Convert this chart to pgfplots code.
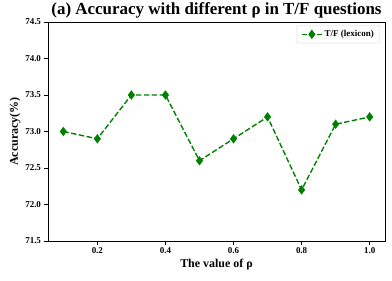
\documentclass[border=0pt]{standalone}
\usepackage{pgfplots}
\pgfplotsset{compat=1.18}
\usepackage{fontspec}
\setmainfont{Liberation Serif}
\definecolor{mplgreen}{RGB}{0,128,0}
\begin{document}
\begin{tikzpicture}
\begin{axis}[
  name=ax,
  scale only axis,
  width=337bp, height=219bp,
  xmin=0.055, xmax=1.045,
  ymin=71.5, ymax=74.5,
  xtick={0.2,0.4,0.6,0.8,1.0},
  ytick={71.5,72.0,72.5,73.0,73.5,74.0,74.5},
  xticklabels={0.2,0.4,0.6,0.8,1.0},
  yticklabels={71.5,72.0,72.5,73.0,73.5,74.0,74.5},
  tick align=outside,
  tick style={black, line width=0.6pt},
  major tick length=3.5bp,
  tick pos=left,
  ticklabel style={font=\fontsize{9}{10}\selectfont\bfseries},
  xlabel={\textbf{The value of ρ}},
  ylabel={\textbf{Accuracy(\%)}},
  label style={font=\fontsize{12}{14}\selectfont},
  xlabel style={yshift=2bp},
  ylabel style={yshift=-2bp},
  title={\textbf{(a) Accuracy with different ρ in T/F questions}},
  title style={font=\fontsize{17}{19}\selectfont, yshift=-6bp},
  legend pos=north east,
  legend style={font=\fontsize{9}{10}\selectfont\bfseries, draw=black!15, rounded corners=1.5pt, inner xsep=4pt, inner ysep=3pt, at={(0.985,0.985)}},
  legend image code/.code={\draw[mark repeat=2,mark phase=2,#1] plot coordinates {(0cm,0cm)(0.36cm,0cm)(0.72cm,0cm)};},
  axis line style={line width=0.6pt},
]
\addplot[mplgreen, dash pattern=on 5.5bp off 2.4bp, line width=1.4pt, mark=diamond*, mark size=3.6pt, mark options={solid, fill=mplgreen}]
coordinates {(0.1,73.0)(0.2,72.9)(0.3,73.5)(0.4,73.5)(0.5,72.6)(0.6,72.9)(0.7,73.2)(0.8,72.2)(0.9,73.1)(1.0,73.2)};
\addlegendentry{T/F (lexicon)}
\end{axis}
\pgfresetboundingbox
\path (ax.south west) ++(-48bp,-39bp) rectangle ([xshift=7bp,yshift=22bp]ax.north east);
\end{tikzpicture}
\end{document}
